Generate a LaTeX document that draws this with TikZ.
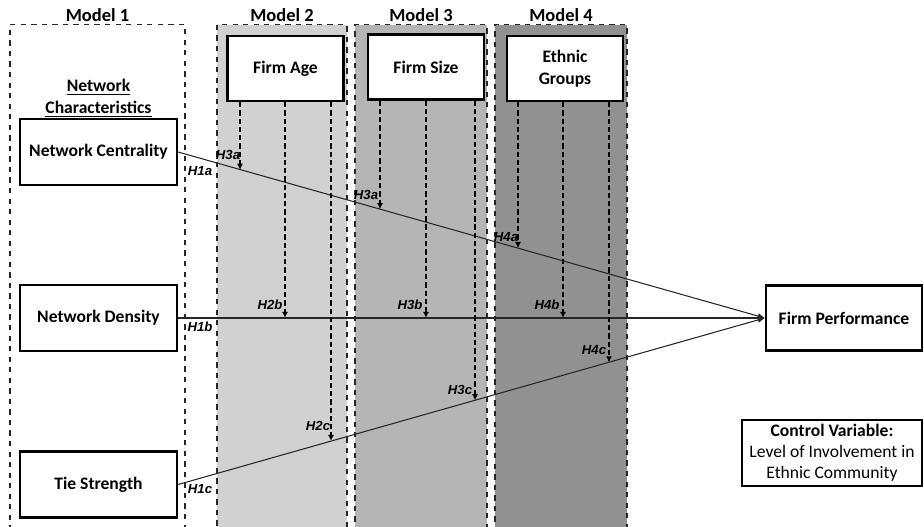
\documentclass[tikz,border=0pt]{standalone}
\usepackage{fontspec}
\setmainfont{Carlito}
\newfontfamily\hypfont{Liberation Sans}
\usetikzlibrary{positioning}
\usetikzlibrary{arrows.meta}
\definecolor{modtwo}{gray}{0.82}
\definecolor{modthree}{gray}{0.71}
\definecolor{modfour}{gray}{0.57}

\begin{document}
\begin{tikzpicture}[
x=0.02cm, y=-0.02cm,
frame/.style={draw=black!85, dashed, line width=0.8pt, anchor=north, inner sep=0, minimum height=10.4cm},
modlabel/.style={font=\fontsize{10.5}{12}\selectfont\bfseries, inner sep=1pt},
nbox/.style={draw=black, fill=white, line width=1.3pt, minimum width=3.14cm, minimum height=1.32cm, inner sep=0, align=center, font=\fontsize{10}{12.5}\selectfont\bfseries},
mbox/.style={nbox, minimum width=2.32cm, minimum height=1.3cm},
hyp/.style={font=\hypfont\fontsize{7.5}{9}\selectfont\bfseries\itshape, inner sep=0},
hyppath/.style={draw=black!85, line width=0.6pt, -{Latex[length=4pt,width=3.5pt]}},
modarrow/.style={draw=black, line width=0.9pt, dash pattern=on 3pt off 1.7pt, -{Latex[length=3.5pt,width=3.5pt]}}
]
\useasboundingbox (0,0) rectangle (924,527);

% model columns
\node[frame, minimum width=3.5cm, label={[modlabel]above:Model 1}] (m1) at (97.5,24) {};
\node[frame, minimum width=2.6cm, fill=modtwo, label={[modlabel]above:Model 2}] (m2) at (282,24) {};
\node[frame, minimum width=2.64cm, fill=modthree, label={[modlabel]above:Model 3}] (m3) at (421,24) {};
\node[frame, minimum width=2.64cm, fill=modfour, label={[modlabel]above:Model 4}] (m4) at (561,24) {};

% moderators
\node[mbox] (age) at (285.5,68.5) {Firm Age};
\node[mbox] (size) at (426,67) {Firm Size};
\node[mbox] (eth) at (565,68.5) {Ethnic\\Groups};

% network characteristics
\node[nbox] (nc) at (98.5,152) {Network Centrality};
\node[nbox] (nd) at (98.5,318) {Network Density};
\node[nbox] (ts) at (98.5,484.5) {Tie Strength};
\node[align=center, inner sep=0pt, font=\fontsize{10}{12.5}\selectfont\bfseries, above=0pt of nc] (nchar) {\underline{Network}\\\underline{Characteristics}};

% outcome and control
\node[nbox, minimum width=3.12cm, minimum height=1.3cm] (fp) at (844,318) {Firm Performance};
\node[draw=black, line width=1.3pt, minimum width=3.6cm, minimum height=1.32cm, inner sep=0, align=center, font=\fontsize{10}{12}\selectfont] (cv) at (832,453) {\textbf{Control Variable:}\\Level of Involvement in\\Ethnic Community};

% main effects
\draw[hyppath] (nc.east) -- (fp.west);
\draw[hyppath] (nd.east) -- (fp.west);
\draw[hyppath] (ts.east) -- (fp.west);

% moderation points
\coordinate (a2) at (240,169.8);
\coordinate (b2) at (285,318);
\coordinate (c2) at (331,441);
\coordinate (a3) at (380,209.2);
\coordinate (b3) at (426,318);
\coordinate (c3) at (475,400.3);
\coordinate (a4) at (518,248.1);
\coordinate (b4) at (563,318);
\coordinate (c4) at (609,362.4);

\draw[modarrow] (age.south -| a2) -- (a2);
\draw[modarrow] (age.south -| b2) -- (b2);
\draw[modarrow] (age.south -| c2) -- (c2);
\draw[modarrow] (size.south -| a3) -- (a3);
\draw[modarrow] (size.south -| b3) -- (b3);
\draw[modarrow] (size.south -| c3) -- (c3);
\draw[modarrow] (eth.south -| a4) -- (a4);
\draw[modarrow] (eth.south -| b4) -- (b4);
\draw[modarrow] (eth.south -| c4) -- (c4);

% hypotheses
\node[hyp] (h1a) at (200,171) {H1a};
\node[hyp] (h1b) at (200,327) {H1b};
\node[hyp] (h1c) at (200,489) {H1c};
\node[hyp] (h2a) at (228,155) {H3a};
\node[hyp] (h2b) at (270,305) {H2b};
\node[hyp] (h2c) at (318,426) {H2c};
\node[hyp] (h3a) at (366,195) {H3a};
\node[hyp] (h3b) at (410,305) {H3b};
\node[hyp] (h3c) at (460,390) {H3c};
\node[hyp] (h4a) at (506,237) {H4a};
\node[hyp] (h4b) at (547,305) {H4b};
\node[hyp] (h4c) at (594,350) {H4c};
\end{tikzpicture}
\end{document}
